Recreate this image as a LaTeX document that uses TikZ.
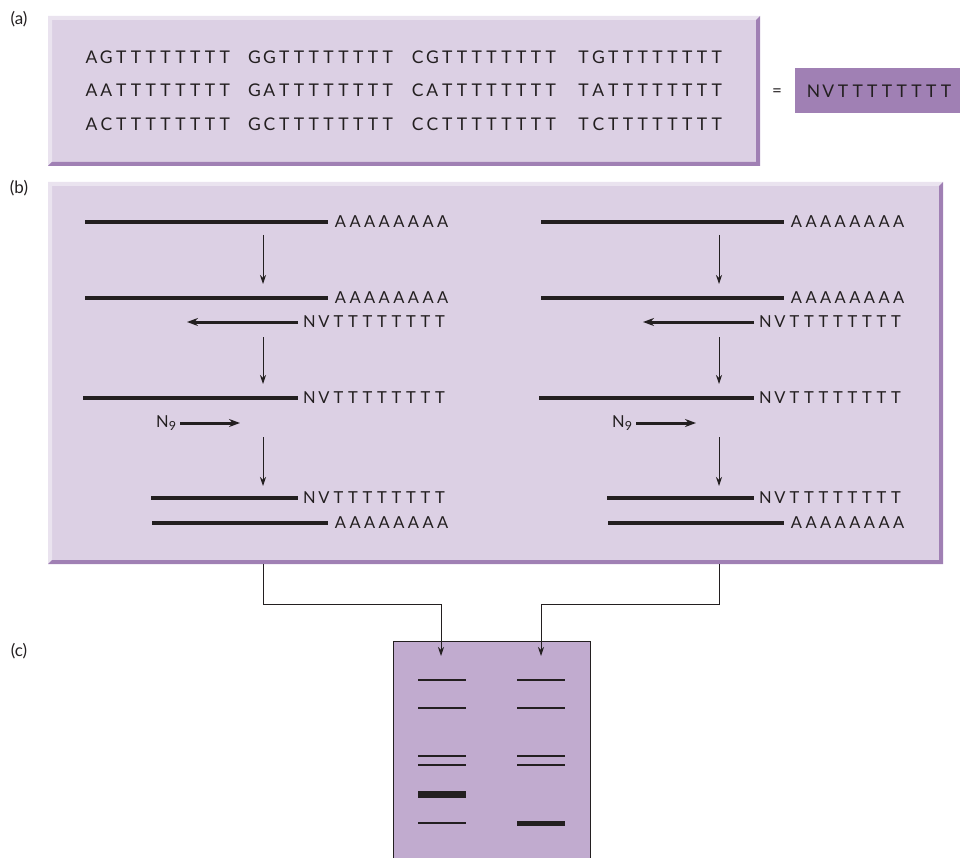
\documentclass[tikz,border=0pt]{standalone}
\usepackage{fontspec}
\setmainfont{Lato}
\usetikzlibrary{arrows.meta}
\definecolor{lav}{RGB}{220,208,228}
\definecolor{lavlight}{RGB}{234,227,239}
\definecolor{lavdark}{RGB}{160,128,180}
\definecolor{gelc}{RGB}{193,171,207}
\definecolor{ink}{RGB}{35,31,32}
\makeatletter
\newcommand\trk[2]{\@tfor\ch:=#2\do{\makebox[#1][c]{\ch}}}
\makeatother
\newcommand\bevbox[4]{%
  \fill[lav] (#1,#2) rectangle (#3,#4);
  \fill[lavlight] (#1,#2) -- (#3,#2) -- ({#3-4},{#2+4}) -- ({#1+4},{#2+4}) -- ({#1+4},{#4-4}) -- (#1,#4) -- cycle;
  \fill[lavdark] (#3,#2) -- (#3,#4) -- (#1,#4) -- ({#1+4},{#4-4}) -- ({#3-4},{#4-4}) -- ({#3-4},{#2+4}) -- cycle;
}
\tikzset{
  seqa/.style={inner sep=0pt, anchor=west, text=ink, font=\fontsize{17.5}{20}\selectfont},
  seqb/.style={inner sep=0pt, anchor=west, text=ink, font=\fontsize{16.5}{19}\selectfont},
  lbl/.style={inner sep=0pt, text=ink, font=\fontsize{17}{19}\selectfont},
  strand/.style={draw=ink, line width=3.6pt},
  primer/.style={draw=ink, line width=3pt, -{Stealth[length=11pt,width=8pt]}},
  steparrow/.style={draw=ink, line width=0.9pt, -{Stealth[length=9pt,width=6pt]}},
  conn/.style={draw=ink, line width=0.9pt},
  band/.style={draw=ink, line width=1.6pt},
}
\begin{document}
\begin{tikzpicture}[x=1pt,y=-1pt]
\useasboundingbox (0,0) rectangle (960,858);
% labels
\node[lbl] (la) at (19,19) {(a)};
\node[lbl] (lb) at (19,188) {(b)};
\node[lbl] (lc) at (19,651) {(c)};
% box (a)
\bevbox{48}{16}{760}{166}
\node[seqa] (a11) at (84,57) {\trk{14.8pt}{AGTTTTTTTT}};
\node[seqa] (a12) at (247,57) {\trk{14.8pt}{GGTTTTTTTT}};
\node[seqa] (a13) at (410,57) {\trk{14.8pt}{CGTTTTTTTT}};
\node[seqa] (a14) at (576,57) {\trk{14.8pt}{TGTTTTTTTT}};
\node[seqa] (a21) at (84,90) {\trk{14.8pt}{AATTTTTTTT}};
\node[seqa] (a22) at (247,90) {\trk{14.8pt}{GATTTTTTTT}};
\node[seqa] (a23) at (410,90) {\trk{14.8pt}{CATTTTTTTT}};
\node[seqa] (a24) at (576,90) {\trk{14.8pt}{TATTTTTTTT}};
\node[seqa] (a31) at (84,124) {\trk{14.8pt}{ACTTTTTTTT}};
\node[seqa] (a32) at (247,124) {\trk{14.8pt}{GCTTTTTTTT}};
\node[seqa] (a33) at (410,124) {\trk{14.8pt}{CCTTTTTTTT}};
\node[seqa] (a34) at (576,124) {\trk{14.8pt}{TCTTTTTTTT}};
\node[lbl] (eq) at (777,93) {=};
\fill[lavdark] (795,68) rectangle (960,113);
\node[seqa] (nv) at (806,91) {\trk{14.7pt}{NVTTTTTTTT}};
% box (b)
\bevbox{48}{182}{943}{564}
\foreach \p/\dx in {L/0,R/456}{
  \begin{scope}[xshift=\dx]
    \node[seqb] (\p t1) at (333,222) {\trk{14.6pt}{AAAAAAAA}};
    \node[seqb] (\p t2) at (333,298) {\trk{14.6pt}{AAAAAAAA}};
    \node[seqb] (\p t3) at (302,322) {\trk{14.5pt}{NVTTTTTTTT}};
    \node[seqb] (\p t4) at (302,398) {\trk{14.5pt}{NVTTTTTTTT}};
    \node[seqb] (\p t6) at (302,498) {\trk{14.5pt}{NVTTTTTTTT}};
    \node[seqb] (\p t7) at (333,523) {\trk{14.6pt}{AAAAAAAA}};
    \node[inner sep=0pt, anchor=west, text=ink, font=\fontsize{16.5}{19}\selectfont] (\p n9) at (156,423) {N\raisebox{-0.35ex}{\fontsize{12.5}{14}\selectfont 9}};
    \coordinate (\p s1) at (85,222);
    \coordinate (\p s2) at (85,298);
    \coordinate (\p s3) at (187,322);
    \coordinate (\p s4) at (83,398);
    \coordinate (\p s6) at (151,498);
    \coordinate (\p s7) at (152,523);
    \coordinate (\p n9e) at (240,423);
    \draw[strand] (\p s1) -- ([xshift=-5pt]\p t1.west);
    \draw[strand] (\p s2) -- ([xshift=-5pt]\p t2.west);
    \draw[primer] ([xshift=-4pt]\p t3.west) -- (\p s3);
    \draw[strand] (\p s4) -- ([xshift=-4pt]\p t4.west);
    \draw[strand] (\p s6) -- ([xshift=-4pt]\p t6.west);
    \draw[strand] (\p s7) -- ([xshift=-5pt]\p t7.west);
    \draw[primer] ([xshift=4pt]\p n9.east) -- (\p n9e);
    \coordinate (\p v1a) at (263,235); \coordinate (\p v1b) at (263,284);
    \coordinate (\p v2a) at (263,337); \coordinate (\p v2b) at (263,384);
    \coordinate (\p v3a) at (263,437); \coordinate (\p v3b) at (263,486);
    \draw[steparrow] (\p v1a) -- (\p v1b);
    \draw[steparrow] (\p v2a) -- (\p v2b);
    \draw[steparrow] (\p v3a) -- (\p v3b);
    \coordinate (\p out) at (263,564);
  \end{scope}
}
% gel (c)
\fill[gelc] (393,641) rectangle (590,858);
\draw[ink, line width=0.9pt] (393,858) -- (393,641) -- (590,641) -- (590,858);
\coordinate (gL) at (441,656);
\coordinate (gR) at (541,656);
\draw[steparrow] (Lout) -- (263,604) -| (gL);
\draw[steparrow] (Rout) -- (719,604) -| (gR);
\foreach \y in {680,708,756,765,823}{\draw[band] (418,\y) -- (466,\y);}
\foreach \y in {680,708,756,765}{\draw[band] (517,\y) -- (565,\y);}
\fill[ink] (418,790.5) rectangle (466,797.5);
\fill[ink] (517,820.5) rectangle (565,825.5);
\end{tikzpicture}
\end{document}
